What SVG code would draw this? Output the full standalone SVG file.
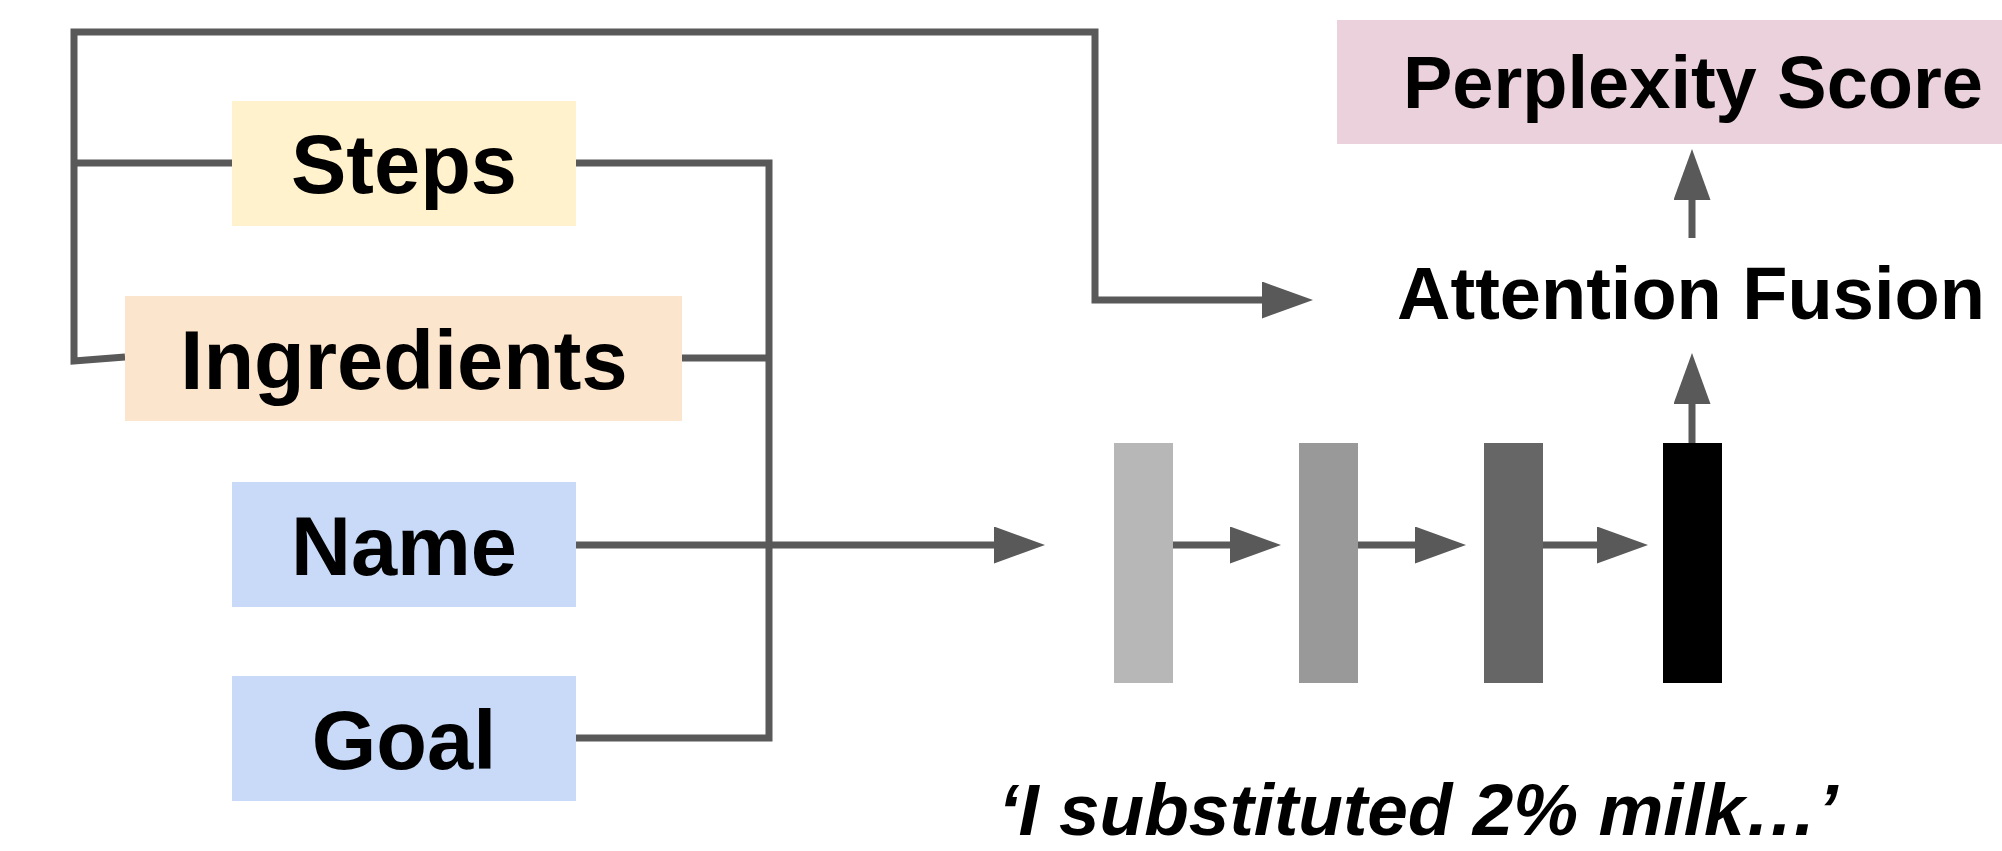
<svg xmlns="http://www.w3.org/2000/svg" width="2002" height="851" viewBox="0 0 2002 851">
<defs>
<marker id="ah" markerUnits="userSpaceOnUse" markerWidth="52" markerHeight="38" refX="0" refY="18.5" orient="auto">
<path d="M0,0 L51,18.5 L0,37 z" fill="#595959"/>
</marker>
<style>
.ln{fill:none;stroke:#595959;stroke-width:7}
.arr{fill:none;stroke:#595959;stroke-width:7;marker-end:url(#ah)}
.lbl{font-family:"Liberation Sans",Arial,sans-serif;font-weight:bold;fill:#000;text-anchor:middle}
</style>
</defs>
<rect width="2002" height="851" fill="#ffffff"/>
<g id="connectors">
<path class="arr" d="M125,357 L74,361 L74,32 L1095,32 L1095,300 L1262,300"/>
<path class="ln" d="M74,163 L232,163"/>
<path class="ln" d="M576,163 L769,163 L769,738 L576,738"/>
<path class="ln" d="M682,358 L769,358"/>
<path class="arr" d="M576,545 L994,545"/>
<path class="arr" d="M1173,545 L1230,545"/>
<path class="arr" d="M1358,545 L1415,545"/>
<path class="arr" d="M1543,545 L1597,545"/>
<path class="arr" d="M1692,443 L1692,404"/>
<path class="arr" d="M1692,238 L1692,200"/>
</g>
<g id="steps">
<rect x="232" y="101" width="344" height="125" fill="#fff2cc"/>
<text class="lbl" x="404" y="193" font-size="83">Steps</text>
</g>
<g id="ingredients">
<rect x="125" y="296" width="557" height="125" fill="#fce5cd"/>
<text class="lbl" x="404" y="389" font-size="83">Ingredients</text>
</g>
<g id="name">
<rect x="232" y="482" width="344" height="125" fill="#c9daf8"/>
<text class="lbl" x="404" y="575" font-size="83">Name</text>
</g>
<g id="goal">
<rect x="232" y="676" width="344" height="125" fill="#c9daf8"/>
<text class="lbl" x="404" y="769" font-size="83">Goal</text>
</g>
<g id="bar1"><rect x="1114" y="443" width="59" height="240" fill="#b7b7b7"/></g>
<g id="bar2"><rect x="1299" y="443" width="59" height="240" fill="#999999"/></g>
<g id="bar3"><rect x="1484" y="443" width="59" height="240" fill="#666666"/></g>
<g id="bar4"><rect x="1663" y="443" width="59" height="240" fill="#000000"/></g>
<g id="attention-fusion">
<text class="lbl" x="1691" y="319" font-size="74">Attention Fusion</text>
</g>
<g id="perplexity-score">
<rect x="1337" y="20" width="665" height="124" fill="#ead1dc"/>
<text class="lbl" x="1693" y="108" font-size="74">Perplexity Score</text>
</g>
<g id="quote">
<text class="lbl" x="1418" y="835" font-size="73" font-style="italic">‘I substituted 2% milk…’</text>
</g>
</svg>
